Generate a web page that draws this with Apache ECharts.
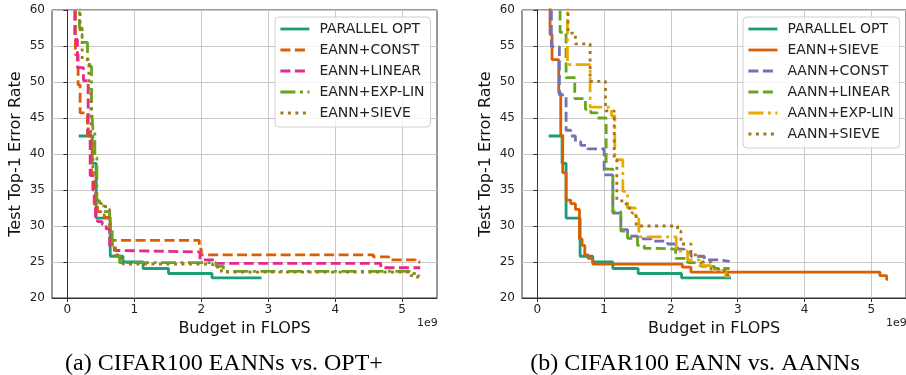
<!DOCTYPE html>
<html>
<head>
<meta charset="utf-8">
<title>CIFAR100 EANNs vs OPT+ / EANN vs AANNs</title>
<script src="https://cdn.jsdelivr.net/npm/echarts@6/dist/echarts.min.js"></script>
<style>
  html, body { margin: 0; padding: 0; background: #fff; }
  #chart { width: 906px; height: 375px; }
</style>
</head>
<body>
<div id="chart"></div>
<script>
// budget is in units of 1e9 FLOPS, error in %
// every curve is a post-step line: the level y[i] starts at x[i]
var xTicks = [0, 1, 2, 3, 4, 5]

var optX = [0.17, 0.37, 0.43, 0.64, 0.83, 1.13, 1.51, 2.16, 2.9]
var optY = [42.5, 38.7, 31.1, 25.8, 25.0, 24.1, 23.4, 22.8, 22.8]

var eannConstX = [0.12, 0.12, 0.16, 0.19, 0.3, 0.36, 0.4, 0.45, 0.55, 0.64, 1.97, 2.0, 4.57, 4.8, 5.2, 5.27]
var eannConstY = [70, 53.8, 49.6, 45.7, 42.5, 37.0, 33.0, 32.0, 31.2, 28.0, 26.8, 26.0, 25.7, 25.3, 25.0, 25.0]

var eannLinearX = [0.11, 0.11, 0.15, 0.24, 0.31, 0.34, 0.38, 0.42, 0.45, 0.52, 0.58, 0.63, 0.7, 0.78, 1.98, 2.22, 4.68, 5.27]
var eannLinearY = [70, 55.9, 52.0, 50.2, 43.0, 37.0, 35.0, 31.0, 30.6, 30.2, 29.6, 27.2, 26.6, 26.4, 25.3, 24.8, 24.2, 24.2]

var eannExpLinX = [0.18, 0.18, 0.22, 0.3, 0.33, 0.36, 0.38, 0.41, 0.44, 0.48, 0.55, 0.63, 0.67, 0.72, 0.78, 2.22, 2.33, 5.16, 5.25]
var eannExpLinY = [70, 57.5, 55.5, 53.0, 52.2, 46.5, 43.5, 39.5, 33.5, 32.8, 32.0, 29.8, 27.5, 25.8, 24.9, 24.4, 23.7, 23.4, 23.0]

var eannSieveX = [0.19, 0.19, 0.22, 0.32, 0.35, 0.38, 0.43, 0.5, 0.57, 0.63, 0.67, 0.71, 0.76, 0.83, 2.17, 2.3, 5.13, 5.23, 5.25]
var eannSieveY = [70, 56.6, 53.1, 48.5, 42.6, 37.4, 33.6, 33.1, 32.3, 28.2, 27.3, 26.0, 25.5, 24.7, 24.3, 23.6, 23.1, 22.6, 22.6]

var aannConstX = [0.21, 0.21, 0.33, 0.43, 0.5, 0.57, 0.65, 0.75, 1.0, 1.13, 1.25, 1.35, 1.5, 1.7, 1.95, 2.1, 2.2, 2.3, 2.5, 2.7, 2.88]
var aannConstY = [70, 54.9, 48.2, 43.3, 42.5, 41.7, 41.2, 40.7, 37.1, 31.8, 29.5, 28.6, 28.2, 27.9, 27.5, 26.8, 26.3, 25.8, 25.3, 25.1, 25.1]

var aannLinearX = [0.34, 0.34, 0.43, 0.56, 0.72, 0.8, 0.9, 1.03, 1.13, 1.25, 1.35, 1.5, 1.6, 1.8, 2.07, 2.25, 2.45, 2.65, 2.88]
var aannLinearY = [70, 56.9, 50.6, 47.7, 46.2, 45.7, 45.0, 37.9, 32.0, 29.3, 28.3, 27.3, 26.9, 26.8, 25.5, 24.9, 24.4, 24.1, 24.1]

var aannExpLinX = [0.45, 0.45, 0.79, 1.11, 1.16, 1.28, 1.35, 1.47, 1.52, 2.08, 2.25, 2.42, 2.6, 2.82, 2.9]
var aannExpLinY = [70, 52.4, 46.5, 45.3, 39.2, 34.8, 32.5, 31.0, 28.5, 26.5, 25.3, 24.5, 23.8, 23.0, 23.0]

var aannSieveX = [0.46, 0.46, 0.57, 0.79, 1.02, 1.15, 1.19, 1.33, 1.42, 1.48, 2.1, 2.15, 2.3, 2.45, 2.6, 2.8, 2.9]
var aannSieveY = [70, 56.8, 55.3, 50.1, 46.0, 39.2, 33.5, 32.5, 31.8, 30.0, 29.3, 27.5, 26.0, 25.0, 24.0, 23.2, 23.2]

var legendLeft = ['PARALLEL OPT', 'EANN+CONST', 'EANN+LINEAR', 'EANN+EXP-LIN', 'EANN+SIEVE']
// right panel names get a trailing space so both legends stay separate
var legendRight = ['PARALLEL OPT ', 'EANN+SIEVE ', 'AANN+CONST', 'AANN+LINEAR', 'AANN+EXP-LIN', 'AANN+SIEVE']

var C_OPT = '#1b9e77', C_ORANGE = '#d95f02', C_PINK = '#e7298a', C_GREEN = '#66a61e',
    C_BROWN = '#a6761d', C_PURPLE = '#7570b3', C_YELLOW = '#e6ab02'
var DASH = [10, 4.5], DASHDOT = [15, 4.5, 3, 4.5], DOT = [3, 4.5]

function stepLine(name, xs, ys, color, dash, idx) {
  return {
    name: name,
    type: 'line',
    step: 'end',
    xAxisIndex: idx,
    yAxisIndex: idx,
    symbol: 'none',
    clip: true,
    itemStyle: { color: color },
    lineStyle: { color: color, width: 2.8, type: dash },
    data: xs.map(function (x, i) { return [x, ys[i]] })
  }
}

var axisText = { color: '#222', fontSize: 12, fontFamily: 'DejaVu Sans' }

function xAx(idx) {
  return {
    type: 'value', gridIndex: idx, min: -0.23, max: 5.52,
    name: 'Budget in FLOPS', nameLocation: 'middle', nameGap: 20,
    nameTextStyle: { color: '#111', fontSize: 16, fontFamily: 'DejaVu Sans' },
    axisLine: { show: true, onZero: false, lineStyle: { color: '#333', width: 1 } },
    axisTick: { show: true, length: 4, customValues: xTicks, lineStyle: { color: '#333' } },
    axisLabel: Object.assign({ margin: 6, customValues: xTicks }, axisText),
    splitLine: { show: true, lineStyle: { color: '#c8c8c8', width: 1 } }
  }
}

function yAx(idx) {
  return {
    type: 'value', gridIndex: idx, min: 20, max: 60, interval: 5,
    name: 'Test Top-1 Error Rate', nameLocation: 'middle', nameGap: 28,
    nameTextStyle: { color: '#111', fontSize: 16, fontFamily: 'DejaVu Sans' },
    axisLine: { show: true, lineStyle: { color: '#333', width: 1 } },
    axisTick: { show: true, length: 4, lineStyle: { color: '#333' } },
    axisLabel: Object.assign({ margin: 7 }, axisText),
    splitLine: { show: true, lineStyle: { color: '#c8c8c8', width: 1 } }
  }
}

function legendBox(data, left, top) {
  return {
    data: data,
    orient: 'vertical',
    left: left, top: top,
    padding: [5, 6, 7, 4],
    itemWidth: 29, itemHeight: 14, itemGap: 7,
    selectedMode: false,
    backgroundColor: 'rgba(255,255,255,0.8)',
    borderColor: '#d0d0d0', borderWidth: 1, borderRadius: 4,
    // hide the marker circle, keep only the line sample
    itemStyle: { opacity: 0 },
    lineStyle: { width: 2.8 },
    textStyle: { color: '#222', fontSize: 14, fontFamily: 'DejaVu Sans', padding: [0, 0, 0, 5] },
    formatter: function (n) { return n.trim() }
  }
}

var chart = echarts.init(document.getElementById('chart'), null, { renderer: 'canvas' })

var option = {
  animation: false,
  backgroundColor: '#fff',
  grid: [
    { left: 52, top: 10, width: 385, height: 288, show: true, borderColor: '#333', borderWidth: 1 },
    { left: 522, top: 10, width: 385, height: 288, show: true, borderColor: '#333', borderWidth: 1 }
  ],
  xAxis: [xAx(0), xAx(1)],
  yAxis: [yAx(0), yAx(1)],
  legend: [legendBox(legendLeft, 275, 17), legendBox(legendRight, 743, 17)],
  series: [
    stepLine('PARALLEL OPT', optX, optY, C_OPT, 'solid', 0),
    stepLine('EANN+CONST', eannConstX, eannConstY, C_ORANGE, DASH, 0),
    stepLine('EANN+LINEAR', eannLinearX, eannLinearY, C_PINK, DASH, 0),
    stepLine('EANN+EXP-LIN', eannExpLinX, eannExpLinY, C_GREEN, DASHDOT, 0),
    stepLine('EANN+SIEVE', eannSieveX, eannSieveY, C_BROWN, DOT, 0),

    stepLine('PARALLEL OPT ', optX, optY, C_OPT, 'solid', 1),
    stepLine('EANN+SIEVE ', eannSieveX, eannSieveY, C_ORANGE, 'solid', 1),
    stepLine('AANN+CONST', aannConstX, aannConstY, C_PURPLE, DASH, 1),
    stepLine('AANN+LINEAR', aannLinearX, aannLinearY, C_GREEN, DASH, 1),
    stepLine('AANN+EXP-LIN', aannExpLinX, aannExpLinY, C_YELLOW, DASHDOT, 1),
    stepLine('AANN+SIEVE', aannSieveX, aannSieveY, C_BROWN, DOT, 1)
  ],
  graphic: [
    // offset text of the x axes
    { type: 'text', left: 417, top: 318, style: { text: '1e9', fontSize: 11, fontFamily: 'DejaVu Sans', fill: '#222' } },
    { type: 'text', left: 886, top: 318, style: { text: '1e9', fontSize: 11, fontFamily: 'DejaVu Sans', fill: '#222' } },
    // sub captions
    { type: 'text', x: 224, y: 364, style: { text: '(a) CIFAR100 EANNs vs. OPT+', fontSize: 24, fontFamily: 'Liberation Serif', fill: '#000', align: 'center', verticalAlign: 'middle' } },
    { type: 'text', x: 695, y: 364, style: { text: '(b) CIFAR100 EANN vs. AANNs', fontSize: 24, fontFamily: 'Liberation Serif', fill: '#000', align: 'center', verticalAlign: 'middle' } }
  ]
}

chart.setOption(option)
</script>
</body>
</html>
